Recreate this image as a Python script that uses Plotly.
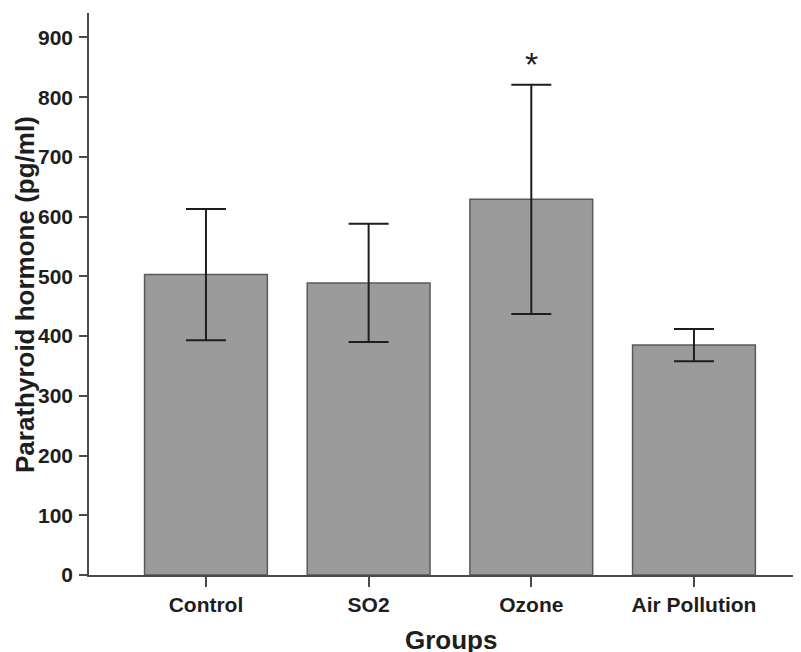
import plotly.graph_objects as go

groups = ["Control", "SO2", "Ozone", "Air Pollution"]
means = [503, 489, 629, 385]
errors = [110, 99, 192, 27]
y_ticks = [0, 100, 200, 300, 400, 500, 600, 700, 800, 900]
significant = ["Ozone"]

FONT = "Liberation Sans, Arial, sans-serif"
AXIS_COLOR = "#4a4a4a"

fig = go.Figure()
fig.add_trace(go.Bar(
    x=groups,
    y=means,
    width=0.755,
    marker=dict(color="#9b9b9b", line=dict(color="#5a5a5a", width=1.5)),
    error_y=dict(type="data", array=errors, visible=True,
                 color="#1e1e1e", thickness=2, width=20),
    showlegend=False,
    hoverinfo="skip",
))

for g in significant:
    i = groups.index(g)
    fig.add_annotation(x=g, y=means[i] + errors[i], xref="x", yref="y",
                       text="*", showarrow=False, yanchor="bottom", yshift=0,
                       font=dict(family=FONT, size=34, color="#1e1e1e"))

fig.add_annotation(text="<b>Parathyroid hormone (pg/ml)</b>", textangle=-90,
                   xref="paper", yref="paper", x=-0.0899, y=0.5,
                   xanchor="center", yanchor="middle", showarrow=False,
                   font=dict(family=FONT, size=26, color="#1e1e1e"))
fig.add_annotation(text="<b>Groups</b>",
                   xref="paper", yref="paper", x=0.508, y=-0.1157,
                   xanchor="center", yanchor="middle", showarrow=False,
                   font=dict(family=FONT, size=26, color="#1e1e1e"))

# page body has an 8px margin, so shift the plot area to compensate
fig.update_layout(
    width=801, height=652,
    margin=dict(l=81, r=8, t=5, b=85),
    paper_bgcolor="white", plot_bgcolor="white",
    font=dict(family=FONT, color="#1e1e1e"),
)
fig.update_xaxes(
    type="category", range=[-0.719, 3.658],
    showline=True, linecolor=AXIS_COLOR, linewidth=1.5,
    ticks="outside", ticklen=10, tickwidth=1.5, tickcolor=AXIS_COLOR,
    showgrid=False, zeroline=False,
    tickfont=dict(family=FONT, size=21, weight="bold", color="#1e1e1e"),
)
fig.update_yaxes(
    range=[0, 941], tickvals=y_ticks,
    showline=True, linecolor=AXIS_COLOR, linewidth=1.5,
    ticks="outside", ticklen=8, tickwidth=1.5, tickcolor=AXIS_COLOR,
    showgrid=False, zeroline=False, ticklabelstandoff=2,
    tickfont=dict(family=FONT, size=21, weight="bold", color="#1e1e1e"),
)

fig.write_html("out.html")
